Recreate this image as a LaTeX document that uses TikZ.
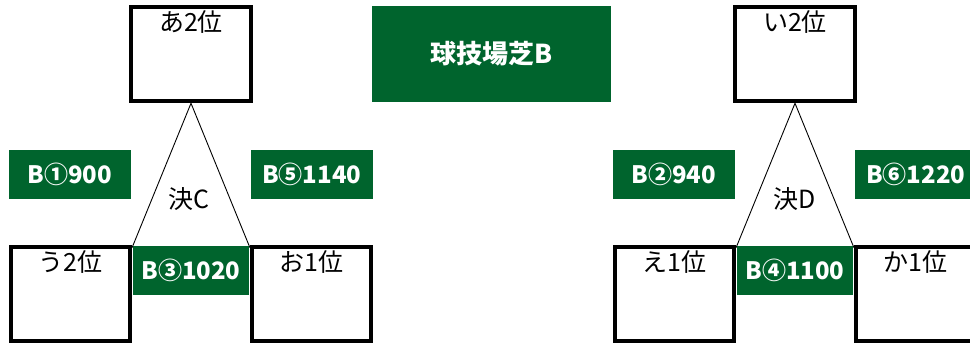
\documentclass[tikz,border=0pt]{standalone}
\usepackage{fontspec}
\setmainfont{Noto Sans CJK JP}
\definecolor{turf}{RGB}{0,100,45}
\tikzset{
	box/.style={draw, line width=4.5pt, minimum width=119pt, minimum height=94pt, inner sep=0},
	boxtext/.style={anchor=north, inner sep=0, yshift=-6pt, font=\fontsize{25}{28}\selectfont},
	pitch/.style={fill=turf, text=white, inner sep=0, font=\bfseries\fontsize{24}{27}\selectfont},
	final/.style={font=\fontsize{25}{28}\selectfont, inner sep=0}
}
\begin{document}
\begin{tikzpicture}[x=1pt, y=-1pt]
	\useasboundingbox (0,0) rectangle (970,347);
	\clip (0,0) rectangle (970,347);

	\node[pitch, minimum width=239pt, minimum height=96pt, font=\bfseries\fontsize{26}{29}\selectfont] (title) at (491.5,54) {球技場芝B};

	% 決C
	\node[box, minimum width=120pt, label={[boxtext]north:あ2位}] (a2) at (191,54) {};
	\node[box, label={[boxtext]north:う2位}] (u2) at (70.5,294) {};
	\node[box, label={[boxtext]north:お1位}] (o1) at (311.5,294) {};
	\draw[line width=0.9pt] (a2.south) -- ([yshift=-2.5pt]u2.north east)
		-- ([yshift=-2.5pt]o1.north west) -- cycle;
	\node[final] (fc) at (189,199) {決C};
	\node[pitch, minimum width=121.7pt, minimum height=48.7pt] (b1) at (69.9,174.7) {B①900};
	\node[pitch, minimum width=122pt, minimum height=48.7pt] (b5) at (311.7,174.7) {B⑤1140};
	\node[pitch, minimum width=116.6pt, minimum height=49pt] (b3) at (191,270.2) {B③1020};

	% 決D
	\begin{scope}[shift={(604,0)}]
		\node[box, minimum width=120pt, label={[boxtext]north:い2位}] (i2) at (191,54) {};
		\node[box, label={[boxtext]north:え1位}] (e1) at (70.5,294) {};
		\node[box, label={[boxtext]north:か1位}] (ka1) at (311.5,294) {};
		\draw[line width=0.9pt] (i2.south) -- ([yshift=-2.5pt]e1.north east)
			-- ([yshift=-2.5pt]ka1.north west) -- cycle;
		\node[final] (fd) at (191,199) {決D};
		\node[pitch, minimum width=121.7pt, minimum height=48.7pt] (b2) at (69.9,174.7) {B②940};
		\node[pitch, minimum width=122pt, minimum height=48.7pt] (b6) at (311.7,174.7) {B⑥1220};
		\node[pitch, minimum width=116.6pt, minimum height=49pt] (b4) at (191,270.2) {B④1100};
	\end{scope}
\end{tikzpicture}
\end{document}
